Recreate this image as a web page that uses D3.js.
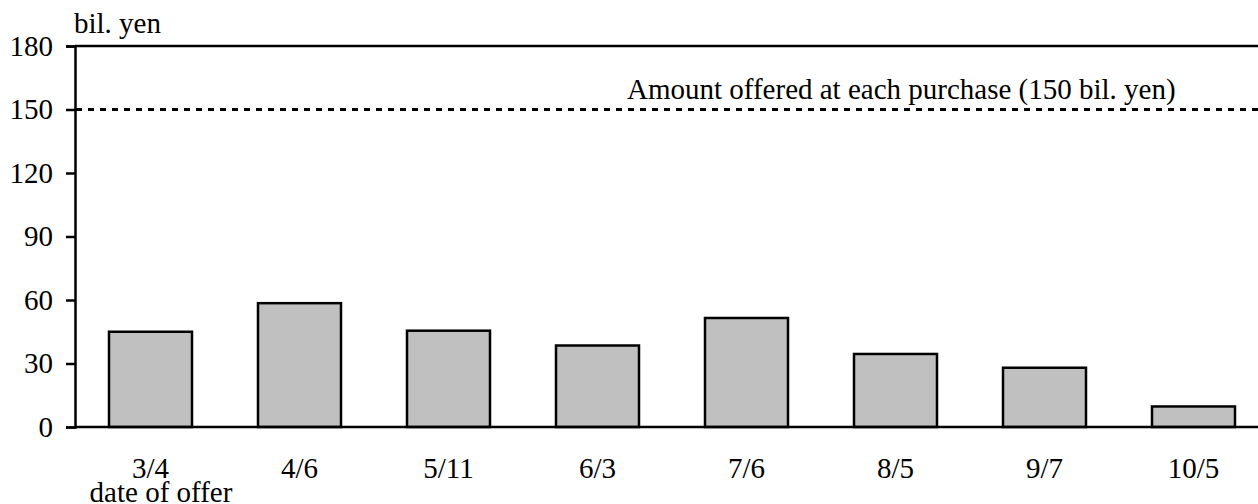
<!DOCTYPE html>
<html>
<head>
<meta charset="utf-8">
<script src="https://cdn.jsdelivr.net/npm/d3@7"></script>
</head>
<body style="margin:0;padding:0;background:#fff">
<script>
const categories = ["3/4", "4/6", "5/11", "6/3", "7/6", "8/5", "9/7", "10/5"];
const values = [45, 58.5, 45.5, 38.5, 51.5, 34.5, 28, 9.7];
const yTicks = [0, 30, 60, 90, 120, 150, 180];
const offeredAmount = 150;
const yMax = 180;
const unitLabel = "bil. yen";
const xTitle = "date of offer";
const refLabel = "Amount offered at each purchase (150 bil. yen)";

const W = 1258, H = 504;
const FONT = "'Liberation Serif'";
const fs = 29;
const svg = d3.select("body").append("svg").attr("width", W).attr("height", H)
  .style("display", "block");

const x = d3.scaleBand().domain(categories).range([76, 1268]).paddingInner(0.443).paddingOuter(0.2215);
const y = d3.scaleLinear().domain([0, yMax]).range([427, 46]);

// bars
svg.append("g").selectAll("rect").data(values).join("rect")
  .attr("x", (d, i) => x(categories[i]))
  .attr("y", d => y(d))
  .attr("width", x.bandwidth())
  .attr("height", d => y(0) - y(d))
  .attr("fill", "#c0c0c0")
  .attr("stroke", "#000")
  .attr("stroke-width", 2.5);

// baseline
svg.append("line").attr("x1", 75).attr("x2", W).attr("y1", y(0)).attr("y2", y(0))
  .attr("stroke", "#000").attr("stroke-width", 2.5);
// top border
svg.append("line").attr("x1", 75).attr("x2", W).attr("y1", y(yMax)).attr("y2", y(yMax))
  .attr("stroke", "#000").attr("stroke-width", 2.5);

// reference dotted line
svg.append("line").attr("x1", 76).attr("x2", W).attr("y1", y(offeredAmount)).attr("y2", y(offeredAmount))
  .attr("stroke", "#000").attr("stroke-width", 3).attr("stroke-dasharray", "6,6");
svg.append("text").attr("x", 627).attr("y", y(offeredAmount) - 11)
  .style("font-family", FONT).style("font-size", fs + "px").attr("fill", "#000").text(refLabel);

// y axis
const yAxis = d3.axisLeft(y).tickValues(yTicks).tickSize(9).tickPadding(13);
const gy = svg.append("g").attr("transform", "translate(75,0)").call(yAxis);
gy.select(".domain").attr("stroke", "#000").attr("stroke-width", 2.5);
gy.selectAll(".tick line").attr("stroke", "#000").attr("stroke-width", 2.5);
gy.selectAll(".tick text").style("font-family", FONT).style("font-size", fs + "px").attr("fill", "#000");

// x labels
const xAxis = d3.axisBottom(x).tickSize(0).tickPadding(30);
const gx = svg.append("g").attr("transform", `translate(0,${y(0)})`).call(xAxis);
gx.select(".domain").remove();
gx.selectAll(".tick text").style("font-family", FONT).style("font-size", fs + "px").attr("fill", "#000");

// unit label
svg.append("text").attr("x", 74).attr("y", 33)
  .style("font-family", FONT).style("font-size", fs + "px").attr("fill", "#000").text(unitLabel);
// x title
svg.append("text").attr("x", 161).attr("y", 502).attr("text-anchor", "middle")
  .style("font-family", FONT).style("font-size", fs + "px").attr("fill", "#000").text(xTitle);
</script>
</body>
</html>
